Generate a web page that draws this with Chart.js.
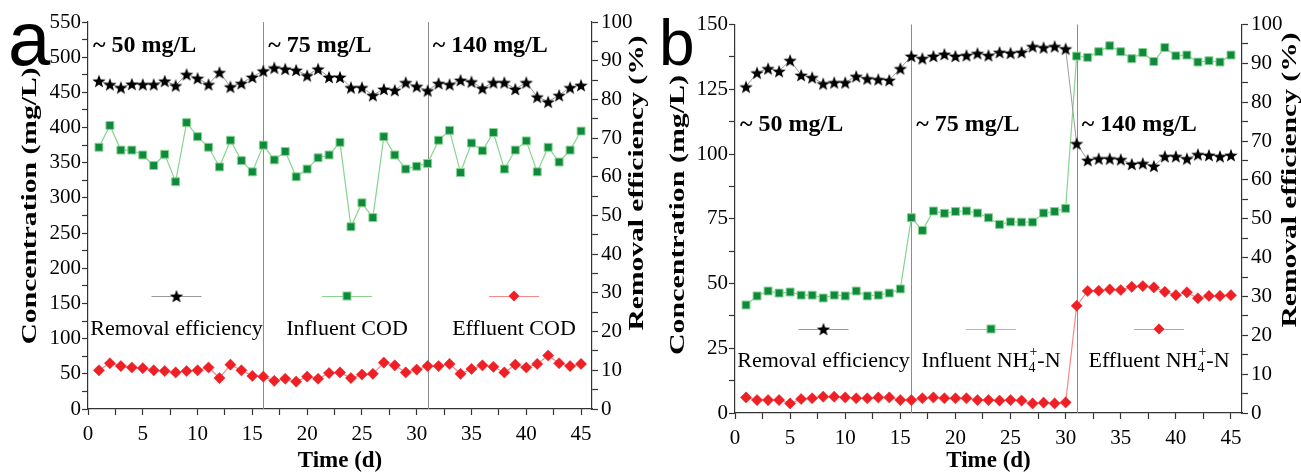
<!DOCTYPE html>
<html><head><meta charset="utf-8">
<script src="https://cdn.jsdelivr.net/npm/chart.js@4.4.1/dist/chart.umd.min.js"></script>
<style>
html,body{margin:0;padding:0;background:#fff;}
#wrap{position:relative;width:1301px;height:472px;overflow:hidden;background:#fff;}
canvas{position:absolute;top:0;}
</style></head><body>
<div id="wrap">
<canvas id="ca" width="650" height="472" style="left:0"></canvas>
<canvas id="cb" width="651" height="472" style="left:650px"></canvas>
</div>
<script>
// ---------------- data ----------------
const days = [1,2,3,4,5,6,7,8,9,10,11,12,13,14,15,16,17,18,19,20,21,22,23,24,25,26,27,28,29,30,31,32,33,34,35,36,37,38,39,40,41,42,43,44,45];
const codRemoval = [84.8,83.9,83.1,84.0,83.9,83.9,84.8,83.6,86.5,85.5,83.9,87.0,83.3,84.2,85.8,87.4,88.2,87.9,87.6,86.2,87.9,85.8,85.8,83.1,83.1,81.1,82.7,82.4,84.4,83.4,82.3,84.2,83.9,85.0,84.6,82.9,84.4,84.4,82.7,84.4,80.7,79.4,81.1,83.1,83.7];
const codInfluent = [372,403,368,368,361,346,362,323,407,387,372,344,382,353,337,375,354,366,330,341,357,361,379,259,293,272,387,361,341,345,349,382,396,336,378,367,393,341,368,381,337,372,351,368,395];
const codEffluent = [55,65,61,59,58,55,54,52,54,55,59,44,63,55,47,46,40,43,39,46,43,51,52,44,49,50,66,62,52,56,61,61,64,50,57,62,60,52,63,59,64,76,65,61,64];
const nhRemoval = [84.0,87.6,88.7,88.0,90.8,87.0,86.4,84.8,85.1,85.1,86.7,86.1,85.9,85.7,88.7,91.9,91.3,91.9,92.4,91.9,92.1,92.6,92.1,92.9,92.7,92.9,94.4,94.1,94.4,93.8,69.4,65.1,65.5,65.5,65.3,64.1,64.3,63.6,66.1,66.1,65.5,66.6,66.4,66.1,66.4];
const nhInfluent = [41.7,45.2,47.1,46.3,46.7,45.5,45.5,44.4,45.5,45.2,47.1,45.2,45.5,46.3,47.9,75.4,70.5,78.0,77.1,77.8,78.0,77.2,75.4,72.8,73.8,73.7,73.7,77.2,77.8,79.0,137.8,137.3,139.5,141.8,139.5,136.8,139.2,135.7,141.1,137.9,138.2,135.5,136.0,135.5,138.2];
const nhEffluent = [6.0,5.0,5.0,5.0,3.7,5.4,5.7,6.3,6.3,6.0,5.7,5.7,6.0,6.0,5.0,5.0,5.7,6.0,5.7,5.7,5.7,5.0,5.0,4.8,5.0,4.8,3.7,4.0,3.7,4.1,41.4,47.1,47.2,47.7,47.5,48.7,49.0,48.5,46.8,45.5,46.6,44.3,45.2,45.2,45.5];
const phaseBoundaries = [16, 31];
const phaseStarts = [0, 16, 31];
const phaseLabels = ['~ 50 mg/L', '~ 75 mg/L', '~ 140 mg/L'];
const legendLabelsA = ['Removal efficiency', 'Influent COD', 'Effluent COD'];
const legendLabelsB = ['Removal efficiency', 'Influent NH', 'Effluent NH'];
const xTitle = 'Time (d)';
const yTitle = 'Concentration (mg/L)';
const y1Title = 'Removal efficiency (%)';

// ---------------- styles ----------------
const SERIF = '"Liberation Serif", "Times New Roman", serif';
const C_GREEN = '#0f8a3c', C_GREEN_L = '#86d48f';
const C_RED = '#ee1f25', C_RED_L = '#f58a8a';
const C_STAR = '#000', C_STAR_L = '#9a9a9a';

function makeStar(r, color) {
  const s = Math.ceil(r * 2 + 2);
  const c = document.createElement('canvas'); c.width = s; c.height = s;
  const g = c.getContext('2d');
  g.fillStyle = color; g.beginPath();
  for (let i = 0; i < 10; i++) {
    const rr = i % 2 ? r * 0.42 : r;
    const a = -Math.PI / 2 + i * Math.PI / 5;
    g.lineTo(s / 2 + rr * Math.cos(a), s / 2 + 0.8 + rr * Math.sin(a));
  }
  g.closePath(); g.fill();
  return c;
}
const starImg = makeStar(7, C_STAR);

function pts(vals) { return days.map((d, i) => ({x: d, y: vals[i]})); }

const panelCfg = {
  ca: {
    letter: 'a', letterFont: '76px "Liberation Sans", Arial, sans-serif', letterX: 8, letterY: 65,
    annY: 52, legendY: 296, legendTextY: 335, legendX: [176.5, 347, 514], nh: false,
    yTitleX: 30, yTitleY: 206, yTitleLen: 277, y1TitleX: 637, y1TitleY: 183, y1TitleLen: 295,
    xTitleY: 467
  },
  cb: {
    letter: 'b', letterFont: '64px "Liberation Sans", Arial, sans-serif', letterX: 9, letterY: 65,
    annY: 131, legendY: 329, legendTextY: 367, legendX: [173.5, 341, 509], nh: true,
    yTitleX: 28, yTitleY: 215, yTitleLen: 280, y1TitleX: 640, y1TitleY: 180, y1TitleLen: 295,
    xTitleY: 467
  }
};

function drawMarker(ctx, kind, x, y) {
  if (kind === 0) {
    ctx.drawImage(starImg, x - starImg.width / 2, y - starImg.height / 2);
  } else if (kind === 1) {
    ctx.fillStyle = C_GREEN; ctx.strokeStyle = C_GREEN_L; ctx.lineWidth = 1;
    ctx.fillRect(x - 4, y - 4, 8, 8); ctx.strokeRect(x - 4, y - 4, 8, 8);
  } else {
    ctx.fillStyle = C_RED; ctx.beginPath();
    ctx.moveTo(x - 5.5, y); ctx.lineTo(x, y - 5.5); ctx.lineTo(x + 5.5, y); ctx.lineTo(x, y + 5.5);
    ctx.closePath(); ctx.fill();
  }
}

function drawRotated(ctx, text, cx, cy, len, font) {
  ctx.save();
  ctx.font = font;
  const w = ctx.measureText(text).width;
  ctx.translate(cx, cy);
  ctx.rotate(-Math.PI / 2);
  ctx.scale(len / w, 1);
  ctx.textAlign = 'center'; ctx.textBaseline = 'middle';
  ctx.fillStyle = '#000';
  ctx.fillText(text, 0, 0);
  ctx.restore();
}

const decor = {
  id: 'decor',
  beforeDatasetsDraw(chart) {
    const {ctx, chartArea: a, scales: {x}} = chart;
    ctx.save(); ctx.strokeStyle = '#8c8c8c'; ctx.lineWidth = 1;
    for (const d of phaseBoundaries) {
      const px = Math.round(x.getPixelForValue(d)) + 0.5;
      ctx.beginPath(); ctx.moveTo(px, a.top); ctx.lineTo(px, a.bottom); ctx.stroke();
    }
    ctx.restore();
  },
  afterDraw(chart) {
    const cfg = panelCfg[chart.canvas.id];
    const {ctx, chartArea: a, scales: {x}} = chart;
    ctx.save();
    ctx.fillStyle = '#000'; ctx.font = cfg.letterFont; ctx.textAlign = 'left'; ctx.textBaseline = 'alphabetic';
    ctx.fillText(cfg.letter, cfg.letterX, cfg.letterY);
    ctx.font = 'bold 24px ' + SERIF;
    phaseStarts.forEach((d, i) => {
      ctx.fillText(phaseLabels[i], x.getPixelForValue(d) + 5, cfg.annY);
    });
    const lcols = [C_STAR_L, C_GREEN_L, C_RED_L];
    const labels = cfg.nh ? legendLabelsB : legendLabelsA;
    cfg.legendX.forEach((cx, i) => {
      ctx.strokeStyle = lcols[i]; ctx.lineWidth = 1.2;
      ctx.beginPath(); ctx.moveTo(cx - 25, cfg.legendY + 0.5); ctx.lineTo(cx + 25, cfg.legendY + 0.5); ctx.stroke();
      drawMarker(ctx, i, cx, cfg.legendY);
      ctx.fillStyle = '#000';
      const big = '22px ' + SERIF, small = '14px ' + SERIF;
      if (cfg.nh && i > 0) {
        ctx.font = big; const w1 = ctx.measureText(labels[i]).width; const w3 = ctx.measureText('-N').width;
        ctx.font = small; const w2 = Math.max(ctx.measureText('4').width, ctx.measureText('+').width) + 1;
        let sx = cx - (w1 + w2 + w3) / 2;
        ctx.textAlign = 'left';
        ctx.font = big; ctx.fillText(labels[i], sx, cfg.legendTextY); sx += w1;
        ctx.font = small; ctx.fillText('4', sx, cfg.legendTextY + 5); ctx.fillText('+', sx + 1, cfg.legendTextY - 11); sx += w2;
        ctx.font = big; ctx.fillText('-N', sx, cfg.legendTextY);
      } else {
        ctx.font = big; ctx.textAlign = 'center';
        ctx.fillText(labels[i], cx, cfg.legendTextY);
      }
    });
    drawRotated(ctx, yTitle, cfg.yTitleX, cfg.yTitleY, cfg.yTitleLen, 'bold 22px ' + SERIF);
    drawRotated(ctx, y1Title, cfg.y1TitleX, cfg.y1TitleY, cfg.y1TitleLen, 'bold 22px ' + SERIF);
    ctx.font = 'bold 23px ' + SERIF; ctx.textAlign = 'center'; ctx.textBaseline = 'alphabetic'; ctx.fillStyle = '#000';
    ctx.fillText(xTitle, (a.left + a.right) / 2, cfg.xTitleY);
    ctx.restore();
  }
};

const tickFont = {family: SERIF, size: 21};
function axisCommon() {
  return {
    grid: {drawOnChartArea: false, drawTicks: true, tickLength: 6, tickColor: '#333', tickWidth: 1.2},
    border: {display: true, color: '#333', width: 1.2}
  };
}

function makeChart(id, o) {
  return new Chart(document.getElementById(id), {
    type: 'line',
    data: {datasets: [
      {data: pts(o.eff), yAxisID: 'y1', borderColor: C_STAR_L, borderWidth: 1, pointStyle: starImg, pointRadius: 7, order: 1},
      {data: pts(o.inf), yAxisID: 'y', borderColor: C_GREEN_L, borderWidth: 1.2, pointStyle: 'rect', pointRadius: 5.6,
       pointBackgroundColor: C_GREEN, pointBorderColor: C_GREEN_L, pointBorderWidth: 1, order: 2},
      {data: pts(o.effl), yAxisID: 'y', borderColor: C_RED_L, borderWidth: 1.2, pointStyle: 'rectRot', pointRadius: 5.6,
       pointBackgroundColor: C_RED, pointBorderColor: C_RED, pointBorderWidth: 0.5, order: 3}
    ]},
    options: {
      responsive: false, animation: false, events: [],
      layout: {padding: {top: o.top, left: 0, right: 0, bottom: 0}},
      plugins: {legend: {display: false}, tooltip: {enabled: false}},
      elements: {line: {tension: 0}},
      scales: {
        x: Object.assign(axisCommon(), {
          type: 'linear', min: 0, max: 46, bounds: 'data',
          ticks: {stepSize: 2.5, autoSkip: false, maxRotation: 0, color: '#000', font: tickFont, padding: 7,
                  callback: v => (Math.abs(v % 5) < 1e-9 ? String(v) : '')},
          afterBuildTicks: s => { s.ticks = s.ticks.filter(t => t.value <= 45.0001); },
          afterFit: s => { s.height = o.xh; }
        }),
        y: Object.assign(axisCommon(), {
          type: 'linear', position: 'left', min: 0, max: o.ymax,
          ticks: {stepSize: o.ystep / 2, autoSkip: false, color: '#000', font: tickFont, padding: 1,
                  callback: v => (Math.abs(v % o.ystep) < 1e-9 ? String(v) : '')},
          afterFit: s => { s.width = o.yw; }
        }),
        y1: Object.assign(axisCommon(), {
          type: 'linear', position: 'right', min: 0, max: 100,
          ticks: {stepSize: 5, autoSkip: false, color: '#000', font: tickFont, padding: 3,
                  callback: v => (Math.abs(v % 10) < 1e-9 ? String(v) : '')},
          afterFit: s => { s.width = o.y1w; }
        })
      }
    },
    plugins: [decor]
  });
}

makeChart('ca', {eff: codRemoval, inf: codInfluent, effl: codEffluent, top: 22, xh: 63, yw: 88, y1w: 58, ymax: 550, ystep: 50});
makeChart('cb', {eff: nhRemoval, inf: nhInfluent, effl: nhEffluent, top: 24.5, xh: 59, yw: 85, y1w: 59, ymax: 150, ystep: 25});
</script>
</body></html>
